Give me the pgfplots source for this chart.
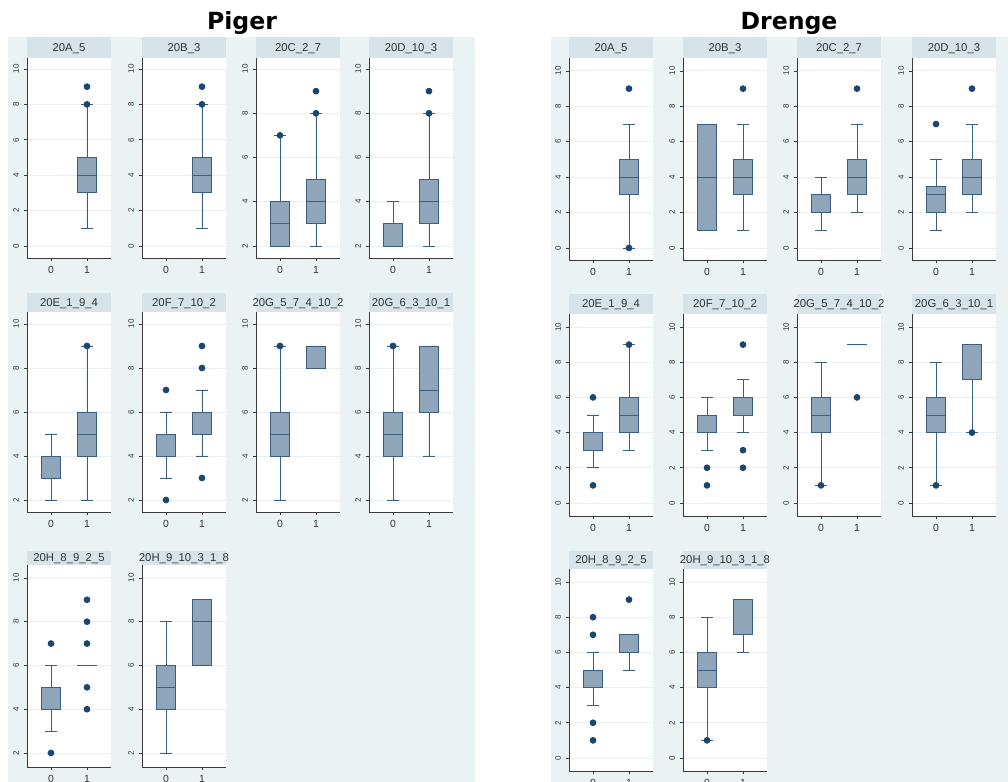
\documentclass[border=0pt]{standalone}
\usepackage{pgfplots}
\pgfplotsset{compat=1.18}
\usepgfplotslibrary{statistics}
\usepackage{fontspec}
\setmainfont{Liberation Sans}
\newfontfamily\titlefont{DejaVu Sans}
\definecolor{bgc}{HTML}{EAF2F3}
\definecolor{hdrc}{HTML}{D6E4E9}
\definecolor{gridc}{HTML}{E9EFF1}
\definecolor{axc}{HTML}{3A3A3A}
\definecolor{txt}{HTML}{333333}
\definecolor{boxf}{HTML}{8FA5B9}
\definecolor{boxl}{HTML}{3A5E80}
\definecolor{dotc}{HTML}{1A476F}
\pgfplotsset{
  pos/.style 2 args={at={({#1*0.75pt},{(782-#2)*0.75pt})}},
  panel/.style={
    scale only axis, width=63pt, anchor=north west,
    xmin=-0.667, xmax=1.667, xtick={0,1},
    axis lines*=left,
    axis line style={draw=axc, line width=0.6pt},
    tick style={draw=axc, line width=0.5pt},
    major tick length=2.5pt, tick align=outside,
    ymajorgrids, grid style={draw=gridc, line width=0.7pt},
    axis background/.style={fill=white},
    /pgf/number format/assume math mode=true,
    xticklabel style={font=\fontsize{7.8}{9}\selectfont, text=txt},
    yticklabel style={rotate=90, anchor=south, font=\fontsize{6}{7}\selectfont, text=txt},
    boxplot/draw direction=y,
    boxplot/box extend=0.53,
    boxplot/whisker extend=0.33,
    clip=false,
  },
  L1a/.style={panel, height=150pt, ymin=-0.678, ymax=10.62, ytick={0,2,...,10}},
  L1b/.style={panel, height=150pt, ymin=1.458, ymax=10.497, ytick={2,4,...,10}},
  L2/.style={panel, height=150pt, ymin=1.455, ymax=10.545, ytick={2,4,...,10}},
  L3/.style={panel, height=151.5pt, ymin=1.36, ymax=10.59, ytick={2,4,...,10}},
  R1/.style={panel, height=151.5pt, ymin=-0.678, ymax=10.73, ytick={0,2,...,10}},
  R2/.style={panel, height=151.5pt, ymin=-0.74, ymax=10.74, ytick={0,2,...,10}},
  bxs/.style={draw=boxl, fill=boxf, line width=0.6pt, solid,
    mark=*, mark size=2.2pt, mark options={draw=dotc, fill=dotc},
    boxplot/every median/.style={draw=boxl, line width=0.7pt},
    boxplot/every whisker/.style={draw=boxl, line width=0.6pt}},
}
% box with outliers
\newcommand{\bx}[7]{\addplot[bxs, boxplot prepared={draw position=#1, lower whisker=#2, lower quartile=#3, median=#4, upper quartile=#5, upper whisker=#6}] table[row sep=\\, y index=0] {y\\#7};}
% box without outliers
\newcommand{\bn}[6]{\addplot[bxs, boxplot prepared={draw position=#1, lower whisker=#2, lower quartile=#3, median=#4, upper quartile=#5, upper whisker=#6}] coordinates {};}
\newcommand{\hdr}[4]{\fill[hdrc] (#1,{782-#2}) rectangle ({#1+84},{782-#3});
  \node[anchor=base, inner sep=0pt, text=txt, font=\fontsize{8.5}{10}\selectfont] at ({#1+42},{782-(#2+#3)/2-4}) {#4};}
\begin{document}
\begin{tikzpicture}[x=0.75pt,y=0.75pt]
\useasboundingbox (0,0) rectangle (1008,782);
\fill[white] (0,0) rectangle (1008,782);
\fill[bgc] (8,0) rectangle (475,745);
\fill[bgc] (551,0) rectangle (1008,745);
% headers left
\hdr{27}{37}{58}{20A\_5}
\hdr{142}{37}{58}{20B\_3}
\hdr{256}{37}{58}{20C\_2\_7}
\hdr{369}{37}{58}{20D\_10\_3}
\hdr{27}{293}{312}{20E\_1\_9\_4}
\hdr{142}{293}{312}{20F\_7\_10\_2}
\hdr{256}{293}{312}{20G\_5\_7\_4\_10\_2}
\hdr{369}{293}{312}{20G\_6\_3\_10\_1}
\hdr{27}{551}{565}{20H\_8\_9\_2\_5}
\hdr{142}{551}{565}{20H\_9\_10\_3\_1\_8}
% headers right
\hdr{569}{37}{58}{20A\_5}
\hdr{683}{37}{58}{20B\_3}
\hdr{797}{37}{58}{20C\_2\_7}
\hdr{912}{37}{58}{20D\_10\_3}
\hdr{569}{294}{314}{20E\_1\_9\_4}
\hdr{683}{294}{314}{20F\_7\_10\_2}
\hdr{797}{294}{314}{20G\_5\_7\_4\_10\_2}
\hdr{912}{294}{314}{20G\_6\_3\_10\_1}
\hdr{569}{551}{569}{20H\_8\_9\_2\_5}
\hdr{683}{551}{569}{20H\_9\_10\_3\_1\_8}

% ---------- Piger ----------
\begin{axis}[L1a, pos={27}{58}]
\bx{1}{1}{3}{4}{5}{8}{8\\9\\}
\end{axis}
\begin{axis}[L1a, pos={142}{58}]
\bx{1}{1}{3}{4}{5}{8}{8\\9\\}
\end{axis}
\begin{axis}[L1b, pos={256}{58}]
\bx{0}{2}{2}{3}{4}{7}{7\\}
\bx{1}{2}{3}{4}{5}{8}{8\\9\\}
\end{axis}
\begin{axis}[L1b, pos={369}{58}]
\bn{0}{2}{2}{2}{3}{4}
\bx{1}{2}{3}{4}{5}{8}{8\\9\\}
\end{axis}
\begin{axis}[L2, pos={27}{312}]
\bn{0}{2}{3}{3}{4}{5}
\bx{1}{2}{4}{5}{6}{9}{9\\}
\end{axis}
\begin{axis}[L2, pos={142}{312}]
\bx{0}{3}{4}{4}{5}{6}{2\\7\\}
\bx{1}{4}{5}{5}{6}{7}{3\\8\\9\\}
\end{axis}
\begin{axis}[L2, pos={256}{312}]
\bx{0}{2}{4}{5}{6}{9}{9\\}
\bn{1}{8}{8}{8}{9}{9}
\end{axis}
\begin{axis}[L2, pos={369}{312}]
\bx{0}{2}{4}{5}{6}{9}{9\\}
\bn{1}{4}{6}{7}{9}{9}
\end{axis}
\begin{axis}[L3, pos={27}{565}]
\bx{0}{3}{4}{4}{5}{6}{2\\7\\}
\bx{1}{6}{6}{6}{6}{6}{4\\5\\7\\8\\9\\}
\end{axis}
\begin{axis}[L3, pos={142}{565}]
\bn{0}{2}{4}{5}{6}{8}
\bn{1}{6}{6}{8}{9}{9}
\end{axis}

% ---------- Drenge ----------
\begin{axis}[R1, pos={569}{58}]
\bx{1}{0}{3}{4}{5}{7}{0\\9\\}
\end{axis}
\begin{axis}[R1, pos={683}{58}]
\bn{0}{1}{1}{4}{7}{7}
\bx{1}{1}{3}{4}{5}{7}{9\\}
\end{axis}
\begin{axis}[R1, pos={797}{58}]
\bn{0}{1}{2}{2}{3}{4}
\bx{1}{2}{3}{4}{5}{7}{9\\}
\end{axis}
\begin{axis}[R1, pos={912}{58}]
\bx{0}{1}{2}{3}{3.5}{5}{7\\}
\bx{1}{2}{3}{4}{5}{7}{9\\}
\end{axis}
\begin{axis}[R2, pos={569}{314}]
\bx{0}{2}{3}{3}{4}{5}{1\\6\\}
\bx{1}{3}{4}{5}{6}{9}{9\\}
\end{axis}
\begin{axis}[R2, pos={683}{314}]
\bx{0}{3}{4}{4}{5}{6}{1\\2\\}
\bx{1}{4}{5}{5}{6}{7}{2\\3\\9\\}
\end{axis}
\begin{axis}[R2, pos={797}{314}]
\bx{0}{1}{4}{5}{6}{8}{1\\}
\bx{1}{9}{9}{9}{9}{9}{6\\}
\end{axis}
\begin{axis}[R2, pos={912}{314}]
\bx{0}{1}{4}{5}{6}{8}{1\\}
\bx{1}{4}{7}{9}{9}{9}{4\\}
\end{axis}
\begin{axis}[R2, pos={569}{569}]
\bx{0}{3}{4}{4}{5}{6}{1\\2\\7\\8\\}
\bx{1}{5}{6}{6}{7}{7}{9\\}
\end{axis}
\begin{axis}[R2, pos={683}{569}]
\bx{0}{1}{4}{5}{6}{8}{1\\}
\bn{1}{6}{7}{9}{9}{9}
\end{axis}

% titles
\node[anchor=base, inner sep=0pt, font=\titlefont\bfseries\fontsize{17.7}{20}\selectfont] at (242,752) {Piger};
\node[anchor=base, inner sep=0pt, font=\titlefont\bfseries\fontsize{17.7}{20}\selectfont] at (789,752) {Drenge};
\end{tikzpicture}
\end{document}
